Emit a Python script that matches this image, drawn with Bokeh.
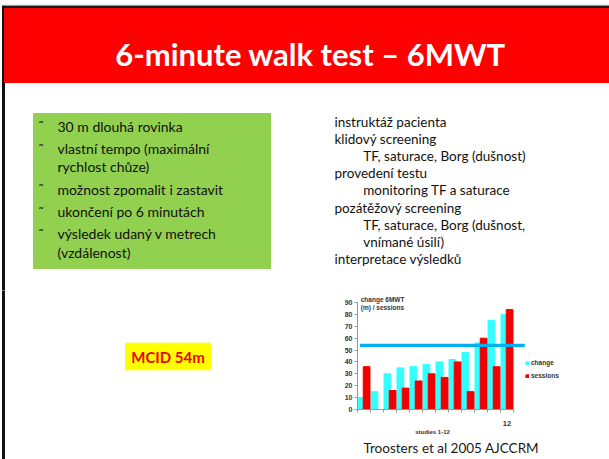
from bokeh.plotting import figure
from bokeh.models import (Range1d, FixedTicker, Legend, LegendItem, Label, ColumnDataSource,
                          Title, LinearAxis)
from bokeh.layouts import column, row
from bokeh.embed import file_html
from bokeh.resources import INLINE
from bokeh.core.properties import value
from bokeh.transform import dodge

# ---------------- data ----------------
title = "6-minute walk test – 6MWT"
left_items = [
    ["30 m dlouhá rovinka"],
    ["vlastní tempo (maximální", "rychlost chůze)"],
    ["možnost zpomalit i zastavit"],
    ["ukončení po 6 minutách"],
    ["výsledek udaný v metrech", "(vzdálenost)"],
]
right_lines = ["instruktáž pacienta", "klidový screening", "TF, saturace, Borg (dušnost)",
               "provedení testu", "monitoring TF a saturace", "pozátěžový screening",
               "TF, saturace, Borg (dušnost,", "vnímané úsilí)", "interpretace výsledků"]
right_indent = [0, 0, 1, 0, 1, 0, 1, 1, 0]
mcid_label = "MCID 54m"

studies = list(range(1, 13))
change = [10, 15, 30, 35, 36, 38, 40, 42, 48, 56, 75, 80]
sessions = [36, 0, 16, 18, 24, 30, 27, 40, 15, 60, 36, 84]
mcid = 54
y_ticks = list(range(0, 100, 10))
x_tick_labels = [12]
chart_title = ["change 6MWT", "(m) / sessions"]
x_label = "studies 1-12"
series_names = ["change", "sessions"]
caption = "Troosters et al 2005 AJCCRM"

FONT = "Lato"
CHART_FONT = "Liberation Sans"


def blank(w, h, xr, yr):
    p = figure(width=w, height=h, x_range=Range1d(*xr), y_range=Range1d(*yr),
               output_backend="svg", toolbar_location=None, min_border=0,
               x_axis_location=None, y_axis_location=None,
               outline_line_color=None)
    p.grid.visible = False
    return p


# ---------------- top part (header + texts) ----------------
A = blank(609, 290, (0, 609), (290, 0))
A.quad(left=2, right=609, top=4.7, bottom=5.8, color="#BFBFBF")
A.quad(left=2, right=609, top=5.8, bottom=7.8, color="#111111")
A.quad(left=2, right=4, top=5.8, bottom=290, color="#111111")
A.quad(left=4, right=609, top=7.8, bottom=82, color="#FF0000")
A.text(x=[310], y=[53.5], text=[title], text_font=value(FONT), text_font_style="bold",
       text_font_size="31px", text_color="white", text_align="center", text_baseline="alphabetic")

# green box
A.quad(left=33, right=270, top=113, bottom=268, color="#92D050")
ys, txt, by, btxt = [], [], [], []
y = 125.7
for item in left_items:
    by.append(y)
    btxt.append("˜")
    for k, line in enumerate(item):
        ys.append(y)
        txt.append(line)
        y += 18.4 if k < len(item) - 1 else 22.3
A.text(x=[57] * len(txt), y=ys, text=txt, text_font=value(FONT), text_font_size="14px",
       text_color="#111111", text_baseline="middle", text_align="left")
A.text(x=[38] * len(btxt), y=by, text=btxt, text_font=value(FONT), text_font_size="13px",
       text_color="#111111", text_baseline="middle", text_align="left")

# right text block
rx = [334 + 28.7 * i for i in right_indent]
ry = [121.7 + 17.07 * k for k in range(len(right_lines))]
A.text(x=rx, y=ry, text=right_lines, text_font=value(FONT), text_font_size="13.5px",
       text_color="#111111", text_baseline="middle", text_align="left")

# ---------------- bottom-left (MCID) ----------------
B = blank(335, 169, (0, 335), (459, 290))
B.quad(left=2, right=4, top=290, bottom=459, color="#111111")
B.quad(left=125, right=210, top=342.7, bottom=369.3, color="#FFFF00")
B.text(x=[167.5], y=[356.5], text=[mcid_label], text_font=value(FONT), text_font_style="bold",
       text_font_size="15px", text_color="#EE0000", text_align="center", text_baseline="middle")

# ---------------- chart ----------------
C = figure(width=274, height=169, x_range=Range1d(0.5, 0.5 + 252 / 13),
           y_range=Range1d(0, 119 / 1.189), output_backend="svg", toolbar_location=None,
           min_border=0, min_border_left=22, min_border_bottom=50, outline_line_color=None)
C.grid.visible = False
src = ColumnDataSource(dict(study=studies, change=change, sessions=sessions))
r1 = C.vbar(x=dodge("study", -0.2, range=C.x_range), top="change", width=0.52,
            source=src, color="#33FFFF")
r2 = C.vbar(x=dodge("study", 0.2, range=C.x_range), top="sessions", width=0.52,
            source=src, color="#F00000")
C.line(x=[0.68, 13.37], y=[mcid, mcid], line_width=3.3, color="#00B0F0")

xa = C.xaxis[0]
xa.ticker = FixedTicker(ticks=x_tick_labels, minor_ticks=[s - 0.5 for s in studies] + [12.5])
xa.bounds = (0.5, 12.5)
xa.major_tick_out = 0
xa.major_tick_in = 0
xa.minor_tick_out = 3
xa.minor_tick_in = 0
xa.major_label_standoff = 8
xa.major_label_text_font = CHART_FONT
xa.major_label_text_font_style = "bold"
xa.major_label_text_font_size = "7.5px"
xa.major_label_text_color = "#333333"
xa.axis_line_color = "#999999"
xa.minor_tick_line_color = "#999999"

# second, line-less axis carrying the x-axis title under studies 1-12
xa2 = LinearAxis(ticker=FixedTicker(ticks=[6.27]), major_label_overrides={6.27: x_label},
                 axis_line_color=None, major_tick_line_color=None, minor_tick_line_color=None,
                 major_tick_out=0, major_tick_in=0, minor_tick_out=0, minor_tick_in=0,
                 major_label_standoff=0, major_label_text_font=CHART_FONT,
                 major_label_text_font_style="bold", major_label_text_font_size="6px",
                 major_label_text_color="#333333")
C.add_layout(xa2, "below")

ya = C.yaxis[0]
ya.ticker = FixedTicker(ticks=y_ticks)
ya.bounds = (0, 90)
ya.major_tick_out = 3
ya.major_tick_in = 0
ya.minor_tick_out = 0
ya.minor_tick_in = 0
ya.major_label_standoff = 2
ya.major_label_text_font = CHART_FONT
ya.major_label_text_font_style = "bold"
ya.major_label_text_font_size = "7px"
ya.major_label_text_color = "#333333"
ya.axis_line_color = "#999999"
ya.major_tick_line_color = "#999999"

for i, t in enumerate(chart_title):
    C.add_layout(Label(x=0.75, y=92.5 - 6.7 * i, text=t, text_font=CHART_FONT,
                       text_font_style="bold", text_font_size="6.5px",
                       text_color="#333333", text_baseline="middle"))

leg = Legend(items=[LegendItem(label=series_names[0], renderers=[r1]),
                    LegendItem(label=series_names[1], renderers=[r2])],
             location=(168, 30), orientation="vertical", glyph_width=4, glyph_height=4,
             label_text_font=CHART_FONT, label_text_font_size="6.5px",
             label_text_font_style="bold", label_text_color="#333333",
             label_height=6, label_standoff=2, spacing=6, padding=0, margin=0,
             border_line_color=None, background_fill_alpha=0)
C.add_layout(leg)

C.add_layout(Title(text=caption, align="left", offset=6, standoff=0, text_font=FONT,
                   text_font_size="13.5px", text_font_style="normal", text_color="#1a1a1a"),
             "below")

layout = column(A, row(B, column(C)))
open("out.html", "w").write(file_html(layout, INLINE))
